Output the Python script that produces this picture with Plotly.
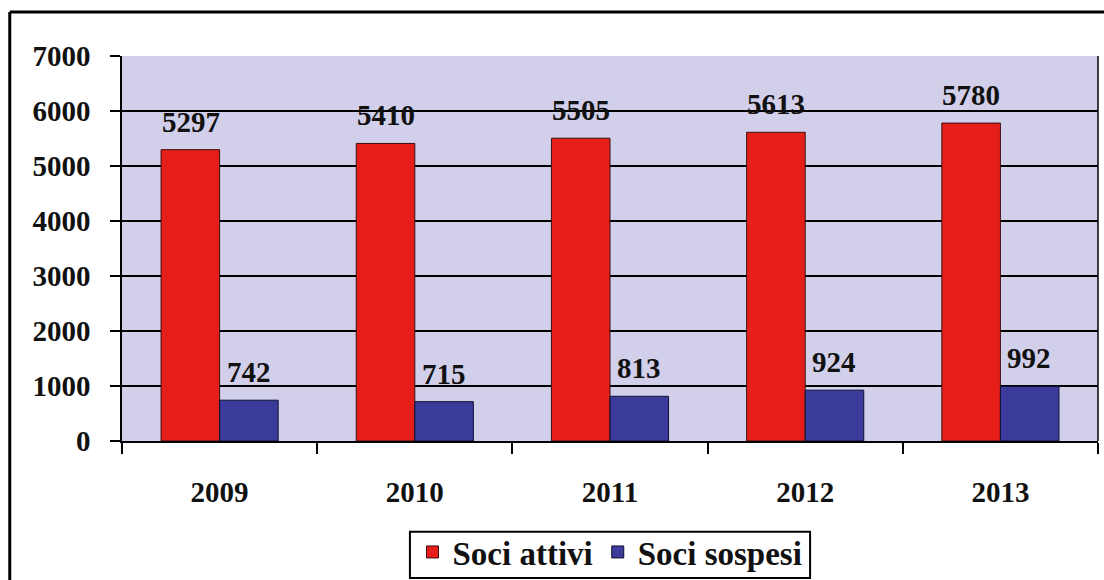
import plotly.graph_objects as go

years = ["2009", "2010", "2011", "2012", "2013"]
attivi = [5297, 5410, 5505, 5613, 5780]
sospesi = [742, 715, 813, 924, 992]
series_names = ["Soci attivi", "Soci sospesi"]
y_ticks = [0, 1000, 2000, 3000, 4000, 5000, 6000, 7000]

RED = "#e61e1a"
BLUE = "#3b3b9c"
FONT = dict(family="Liberation Serif", size=29, color="#111111", weight="bold")
LEGEND_FONT = dict(family="Liberation Serif", size=33, color="#111111", weight="bold")

fig = go.Figure()
fig.add_trace(go.Bar(x=years, y=attivi, name=series_names[0], marker=dict(color=RED, line=dict(color="#3a1010", width=1))))
fig.add_trace(go.Bar(x=years, y=sospesi, name=series_names[1], marker=dict(color=BLUE, line=dict(color="#101030", width=1))))

for vals, shift in ((attivi, -29), (sospesi, 29)):
    for i, v in enumerate(vals):
        fig.add_annotation(x=i, y=v, xref="x", yref="y", text=str(v), showarrow=False,
                           xshift=shift, yshift=10, yanchor="bottom", xanchor="center", font=FONT)

# outer frame (top and left edges)
fig.add_shape(type="line", xref="paper", yref="paper", x0=-0.115, x1=1.01, y0=1.114, y1=1.114,
              line=dict(color="black", width=3))
fig.add_shape(type="line", xref="paper", yref="paper", x0=-0.115, x1=-0.115, y0=1.114, y1=-0.4,
              line=dict(color="black", width=3))
# legend frame
fig.add_shape(type="rect", xref="paper", yref="paper", x0=0.295, x1=0.705, y0=-0.356, y1=-0.236,
              line=dict(color="black", width=2), fillcolor="rgba(0,0,0,0)")

fig.update_layout(
    width=1104, height=580,
    margin=dict(l=122, r=6, t=56, b=139, autoexpand=False),
    paper_bgcolor="white",
    plot_bgcolor="#d1cfea",
    barmode="group", bargap=0.4, bargroupgap=0,
    font=FONT,
    showlegend=True,
    legend=dict(orientation="h", x=0.5, xanchor="center", xref="paper", y=-0.01, yref="container",
                yanchor="bottom", borderwidth=0, bgcolor="rgba(0,0,0,0)", font=LEGEND_FONT,
                traceorder="normal"),
)
fig.update_xaxes(type="category", range=[-0.5, len(years) - 0.5], showline=True, linecolor="black", linewidth=1.5,
                 ticks="outside", ticklen=11, tickcolor="black", tickwidth=1.5,
                 tickson="boundaries", ticklabelstandoff=24, tickfont=FONT, mirror=False)
fig.update_yaxes(range=[0, 7000], tickvals=y_ticks, showgrid=True, gridcolor="black", gridwidth=1.5,
                 showline=True, linecolor="black", linewidth=1.5, ticks="outside", ticklen=10,
                 tickcolor="black", tickwidth=1.5, ticklabelstandoff=14, tickfont=FONT,
                 zeroline=False)
# right border of plot area
fig.add_shape(type="line", xref="paper", yref="paper", x0=1, x1=1, y0=0, y1=1, line=dict(color="black", width=1.5))

fig.write_html("out.html")
